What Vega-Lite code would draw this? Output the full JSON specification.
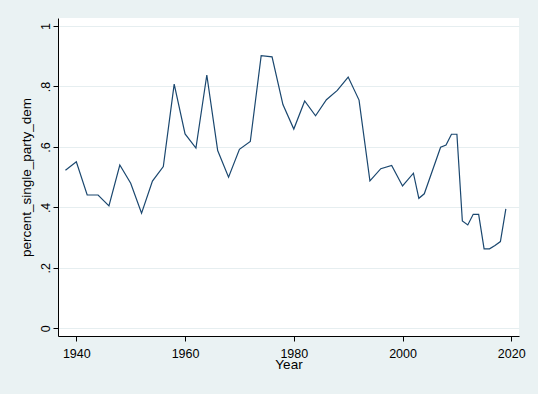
{
  "$schema": "https://vega.github.io/schema/vega-lite/v6.json",
  "width": 461,
  "height": 318,
  "autosize": {"type": "none"},
  "padding": {"left": 58, "top": 18, "right": 19, "bottom": 58},
  "background": "#EAF2F3",
  "config": {
    "view": {"fill": "white", "stroke": null},
    "font": "Liberation Sans",
    "axis": {
      "domainColor": "black",
      "domainWidth": 1,
      "tickColor": "black",
      "tickSize": 5,
      "labelColor": "black",
      "titleColor": "black",
      "labelFont": "Liberation Sans",
      "titleFont": "Liberation Sans",
      "labelFontSize": 12.5,
      "titleFontSize": 13.5,
      "titleFontWeight": "normal"
    }
  },
  "data": {
    "values": [
      {"Year": 1938, "percent_single_party_dem": 0.523},
      {"Year": 1940, "percent_single_party_dem": 0.551},
      {"Year": 1942, "percent_single_party_dem": 0.441},
      {"Year": 1944, "percent_single_party_dem": 0.441},
      {"Year": 1946, "percent_single_party_dem": 0.405},
      {"Year": 1948, "percent_single_party_dem": 0.540},
      {"Year": 1950, "percent_single_party_dem": 0.480},
      {"Year": 1952, "percent_single_party_dem": 0.381},
      {"Year": 1954, "percent_single_party_dem": 0.487},
      {"Year": 1956, "percent_single_party_dem": 0.535},
      {"Year": 1958, "percent_single_party_dem": 0.808},
      {"Year": 1960, "percent_single_party_dem": 0.643},
      {"Year": 1962, "percent_single_party_dem": 0.596},
      {"Year": 1964, "percent_single_party_dem": 0.838},
      {"Year": 1966, "percent_single_party_dem": 0.588},
      {"Year": 1968, "percent_single_party_dem": 0.500},
      {"Year": 1970, "percent_single_party_dem": 0.592},
      {"Year": 1972, "percent_single_party_dem": 0.618},
      {"Year": 1974, "percent_single_party_dem": 0.902},
      {"Year": 1976, "percent_single_party_dem": 0.898},
      {"Year": 1978, "percent_single_party_dem": 0.740},
      {"Year": 1980, "percent_single_party_dem": 0.659},
      {"Year": 1982, "percent_single_party_dem": 0.752},
      {"Year": 1984, "percent_single_party_dem": 0.703},
      {"Year": 1986, "percent_single_party_dem": 0.756},
      {"Year": 1988, "percent_single_party_dem": 0.787},
      {"Year": 1990, "percent_single_party_dem": 0.831},
      {"Year": 1992, "percent_single_party_dem": 0.755},
      {"Year": 1994, "percent_single_party_dem": 0.488},
      {"Year": 1996, "percent_single_party_dem": 0.528},
      {"Year": 1998, "percent_single_party_dem": 0.539},
      {"Year": 2000, "percent_single_party_dem": 0.471},
      {"Year": 2002, "percent_single_party_dem": 0.513},
      {"Year": 2003, "percent_single_party_dem": 0.430},
      {"Year": 2004, "percent_single_party_dem": 0.445},
      {"Year": 2007, "percent_single_party_dem": 0.599},
      {"Year": 2008, "percent_single_party_dem": 0.606},
      {"Year": 2009, "percent_single_party_dem": 0.642},
      {"Year": 2010, "percent_single_party_dem": 0.642},
      {"Year": 2011, "percent_single_party_dem": 0.355},
      {"Year": 2012, "percent_single_party_dem": 0.342},
      {"Year": 2013, "percent_single_party_dem": 0.377},
      {"Year": 2014, "percent_single_party_dem": 0.377},
      {"Year": 2015, "percent_single_party_dem": 0.263},
      {"Year": 2016, "percent_single_party_dem": 0.263},
      {"Year": 2017, "percent_single_party_dem": 0.274},
      {"Year": 2018, "percent_single_party_dem": 0.287},
      {"Year": 2019, "percent_single_party_dem": 0.395}
    ]
  },
  "mark": {"type": "line", "color": "#1A476F", "strokeWidth": 1.2, "clip": true},
  "encoding": {
    "x": {
      "field": "Year",
      "type": "quantitative",
      "scale": {"domain": [1936.63, 2021.42], "nice": false, "zero": false},
      "axis": {
        "values": [1940, 1960, 1980, 2000, 2020],
        "format": "d",
        "grid": false,
        "labelPadding": 6,
        "labelFlush": false,
        "labelBaseline": "top",
        "title": "Year",
        "titleBaseline": "alphabetic",
        "titlePadding": 8.5
      }
    },
    "y": {
      "field": "percent_single_party_dem",
      "type": "quantitative",
      "scale": {"domain": [-0.0255, 1.0265], "nice": false, "zero": false},
      "axis": {
        "values": [0, 0.2, 0.4, 0.6, 0.8, 1],
        "labelExpr": "datum.value == 0 ? '0' : datum.value == 1 ? '1' : replace(format(datum.value, '.1f'), '0.', '.')",
        "grid": true,
        "gridColor": "#E6EEF0",
        "gridWidth": 1,
        "labelAngle": -90,
        "labelAlign": "center",
        "labelBaseline": "alphabetic",
        "labelPadding": 4,
        "title": "percent_single_party_dem",
        "titleAngle": -90,
        "titleBaseline": "alphabetic",
        "titlePadding": 8.3
      }
    }
  }
}
